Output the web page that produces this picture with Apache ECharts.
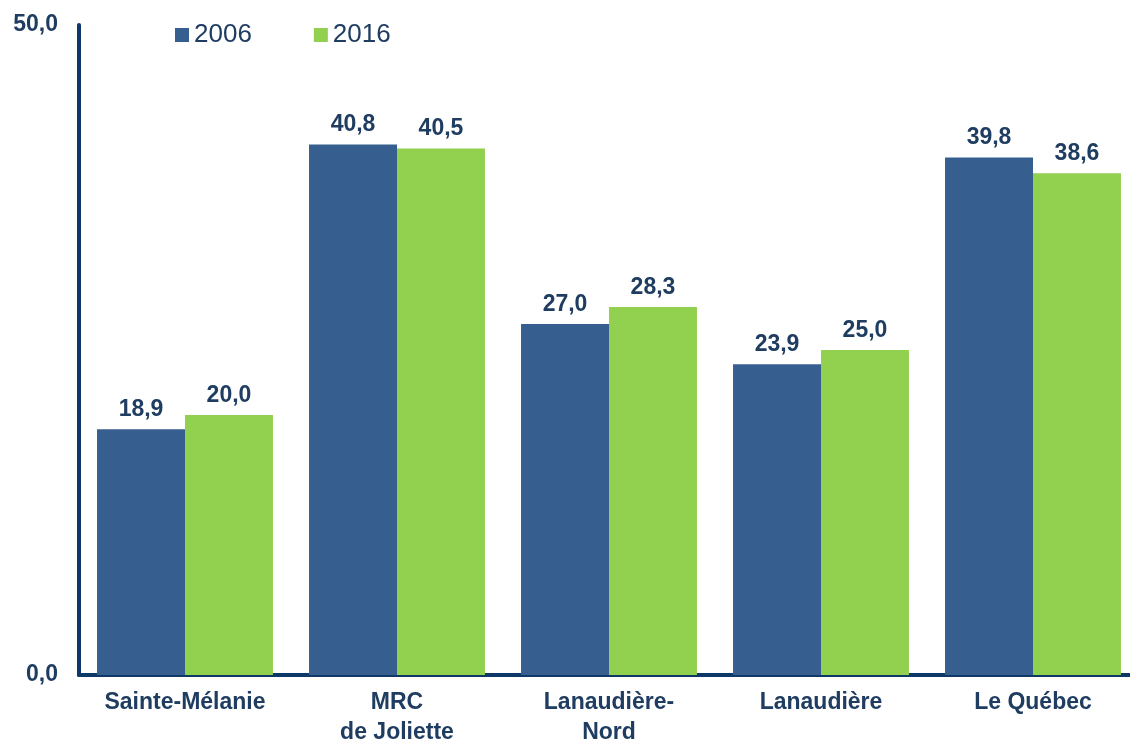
<!DOCTYPE html>
<html>
<head>
<meta charset="utf-8">
<style>
  html, body { margin: 0; padding: 0; background: #fff; }
  #chart { width: 1130px; height: 739px; }
</style>
<script src="https://cdn.jsdelivr.net/npm/echarts@6/dist/echarts.min.js"></script>
</head>
<body>
<div id="chart"></div>
<script>
// catégories et valeurs
const categories = ["Sainte-Mélanie", "MRC\nde Joliette", "Lanaudière-\nNord", "Lanaudière", "Le Québec"];
const years = ["2006", "2016"];
const values2006 = [18.9, 40.8, 27.0, 23.9, 39.8];
const values2016 = [20.0, 40.5, 28.3, 25.0, 38.6];

const navy = "#1f3c61";
const fmt = v => v.toFixed(1).replace(".", ",");

const chart = echarts.init(document.getElementById("chart"));

const labelStyle = {
  show: true,
  position: "top",
  distance: 8,
  color: navy,
  fontFamily: "Liberation Sans",
  fontWeight: "bold",
  fontSize: 23,
  formatter: p => fmt(p.value)
};

chart.setOption({
  animation: false,
  legend: {
    top: 17,
    left: 170,
    itemWidth: 14,
    itemHeight: 14,
    itemGap: 62,
    icon: "rect",
    textStyle: { color: navy, fontFamily: "Liberation Sans", fontSize: 26 },
    data: years
  },
  grid: { left: 79, top: 25, width: 1060, bottom: 64, outerBoundsMode: "none" },
  xAxis: {
    type: "category",
    data: categories,
    axisLine: { lineStyle: { color: "#0d3868", width: 4 } },
    axisTick: { show: false },
    axisLabel: {
      color: navy,
      fontFamily: "Liberation Sans",
      fontWeight: "bold",
      fontSize: 23,
      lineHeight: 30,
      margin: 13
    }
  },
  yAxis: {
    type: "value",
    min: 0,
    max: 50,
    interval: 50,
    splitLine: { show: false },
    axisTick: { show: false },
    axisLine: { show: true, lineStyle: { color: "#0d3868", width: 4 } },
    axisLabel: {
      color: navy,
      fontFamily: "Liberation Sans",
      fontWeight: "bold",
      fontSize: 23,
      margin: 21,
      formatter: v => fmt(v)
    }
  },
  series: [
    {
      name: years[0],
      type: "bar",
      data: values2006,
      barGap: "0%",
      barCategoryGap: "17%",
      itemStyle: { color: "#365f8f" },
      label: labelStyle
    },
    {
      name: years[1],
      type: "bar",
      data: values2016,
      barGap: "0%",
      barCategoryGap: "17%",
      itemStyle: { color: "#92d050" },
      label: labelStyle
    }
  ]
});
</script>
</body>
</html>
